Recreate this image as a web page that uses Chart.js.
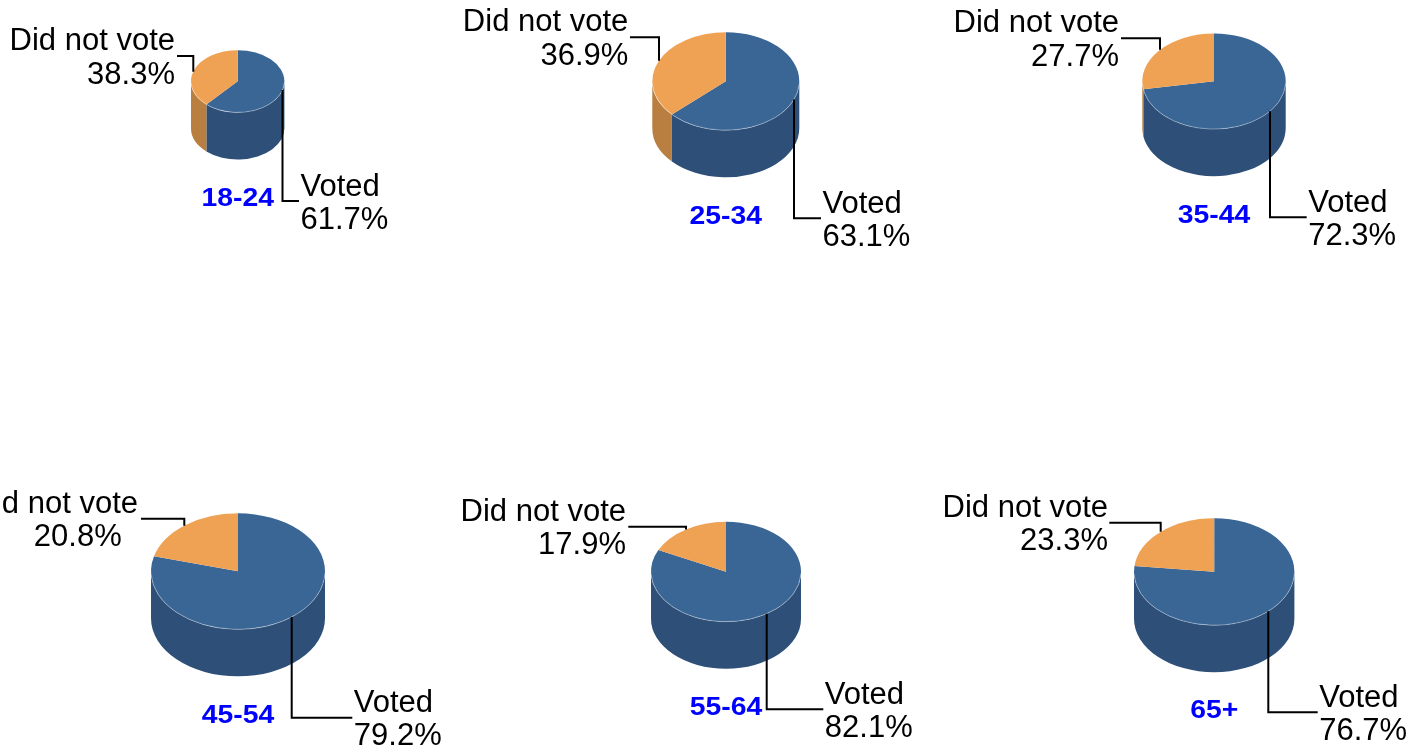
<!DOCTYPE html>
<html><head><meta charset="utf-8">
<script src="https://cdn.jsdelivr.net/npm/chart.js@4.4.1/dist/chart.umd.min.js"></script>
<style>
html,body{margin:0;padding:0;background:#fff;width:1414px;height:750px;overflow:hidden;}
#wrap{position:relative;width:1414px;height:750px;}
canvas{position:absolute;left:0;top:0;}
</style></head><body><div id="wrap"></div>
<script>
// ---- data ----
const ageGroups = ['18-24', '25-34', '35-44', '45-54', '55-64', '65+'];
const sliceLabels = ['Voted', 'Did not vote'];
const votedPct = [61.7, 63.1, 72.3, 79.2, 82.1, 76.7];
const didNotVotePct = [38.3, 36.9, 27.7, 20.8, 17.9, 23.3];

// ---- layout (positions / sizes only) ----
const W = 1414, H = 750;
const K = 0.667;      // vertical squash of the pie top
const DEPTH = 47;     // pie thickness in px
const pieLayout = [
  {cx: 237.7, cy: 81.3, r: 46.7, vx: 282.5, vy: 201, vEnd: 299, nx: 193.3, ny: 56, nStart: 177, nRight1: 175, nRight2: 175, ageY: 205.7},
  {cx: 725.8, cy: 81.2, r: 73.5, vx: 794, vy: 218.3, vEnd: 821, nx: 659, ny: 37.3, nStart: 630, nRight1: 628.3, nRight2: 628.3, ageY: 224},
  {cx: 1214, cy: 81.3, r: 71.7, vx: 1270, vy: 217.3, vEnd: 1306.7, nx: 1160, ny: 38.3, nStart: 1121, nRight1: 1119, nRight2: 1119, ageY: 222.7},
  {cx: 238, cy: 571.3, r: 87, vx: 291.7, vy: 717.7, vEnd: 352.3, nx: 184.3, ny: 518.7, nStart: 141, nRight1: 138, nRight2: 121.7, ageY: 723.3},
  {cx: 726, cy: 571.7, r: 75, vx: 766.7, vy: 709.3, vEnd: 823.3, nx: 686, ny: 526.7, nStart: 628.3, nRight1: 626, nRight2: 626, ageY: 715},
  {cx: 1214.2, cy: 571.7, r: 80.2, vx: 1268.3, vy: 712.3, vEnd: 1317.7, nx: 1160.7, ny: 522.7, nStart: 1109.3, nRight1: 1108, nRight2: 1108, ageY: 718.3}
];
const topColors = ['#3A6696', '#F0A254'];
const sideColors = ['#2E4F77', '#B97F40'];
const FONT = '"Liberation Sans", Arial, sans-serif';

const pie3d = {
  id: 'pie3d',
  beforeDatasetsDraw(chart) {
    const ctx = chart.ctx;
    const arcs = chart.getDatasetMeta(0).data;
    const p = arcs[0].getProps(['x', 'y', 'outerRadius'], true);
    const cx = p.x, cy = p.y, r = p.outerRadius, ry = r * K;
    arcs.forEach((arc, i) => {
      const a0 = arc.getProps(['startAngle', 'endAngle'], true);
      for (let k = -1; k <= 1; k++) {
        const a = Math.max(a0.startAngle, k * 2 * Math.PI);
        const b = Math.min(a0.endAngle, k * 2 * Math.PI + Math.PI);
        if (b > a) {
          ctx.beginPath();
          ctx.ellipse(cx, cy, r, ry, 0, a, b, false);
          ctx.ellipse(cx, cy + DEPTH, r, ry, 0, b, a, true);
          ctx.closePath();
          ctx.fillStyle = sideColors[i];
          ctx.fill();
        }
      }
    });
    ctx.save();
    ctx.translate(cx, cy);
    ctx.scale(1, K);
    ctx.translate(-cx, -cy);
  },
  afterDatasetsDraw(chart) {
    const ctx = chart.ctx;
    ctx.restore();
    const p = chart.getDatasetMeta(0).data[0].getProps(['x', 'y', 'outerRadius'], true);
    ctx.save();
    ctx.beginPath();
    ctx.ellipse(p.x, p.y, p.outerRadius, p.outerRadius * K, 0, 0.05, Math.PI - 0.05);
    ctx.strokeStyle = 'rgba(255,255,255,0.35)';
    ctx.lineWidth = 1;
    ctx.stroke();
    ctx.restore();
  },
  afterDraw(chart) {
    const ctx = chart.ctx;
    const idx = chart.options.plugins.pie3d.index;
    const L = pieLayout[idx];
    const p = chart.getDatasetMeta(0).data[0].getProps(['x', 'y', 'outerRadius'], true);
    const cx = p.x, cy = p.y, r = p.outerRadius, ry = r * K;
    const edgeY = (x, sign) => {
      const c = Math.max(-1, Math.min(1, (x - cx) / r));
      return cy + sign * ry * Math.sqrt(1 - c * c);
    };
    ctx.save();
    ctx.strokeStyle = '#000';
    ctx.lineWidth = 2;
    // Voted leader
    ctx.beginPath();
    ctx.moveTo(L.vx, edgeY(L.vx, 1));
    ctx.lineTo(L.vx, L.vy);
    ctx.lineTo(L.vEnd, L.vy);
    ctx.stroke();
    // Did not vote leader
    ctx.beginPath();
    ctx.moveTo(L.nStart, L.ny);
    ctx.lineTo(L.nx, L.ny);
    ctx.lineTo(L.nx, edgeY(L.nx, -1));
    ctx.stroke();

    const data = chart.data.datasets[0].data;
    ctx.fillStyle = '#000';
    ctx.font = '31px ' + FONT;
    ctx.textBaseline = 'alphabetic';
    ctx.textAlign = 'right';
    ctx.fillText(chart.data.labels[1], L.nRight1, L.ny - 6);
    ctx.fillText(data[1].toFixed(1) + '%', L.nRight2, L.ny + 27.5);
    ctx.textAlign = 'left';
    ctx.fillText(chart.data.labels[0], L.vEnd + 1.5, L.vy - 5.5);
    ctx.fillText(data[0].toFixed(1) + '%', L.vEnd + 1.5, L.vy + 27.5);

    // age group label
    ctx.font = 'bold 26px ' + FONT;
    ctx.fillStyle = '#0000FF';
    ctx.textAlign = 'center';
    ctx.translate(cx, L.ageY);
    ctx.scale(1.09, 1);
    ctx.fillText(ageGroups[idx], 0, 0);
    ctx.restore();
  }
};

const wrap = document.getElementById('wrap');
ageGroups.forEach((g, i) => {
  const L = pieLayout[i];
  const cv = document.createElement('canvas');
  cv.width = W; cv.height = H;
  cv.style.width = W + 'px'; cv.style.height = H + 'px';
  wrap.appendChild(cv);
  new Chart(cv, {
    type: 'pie',
    data: {
      labels: sliceLabels,
      datasets: [{
        data: [votedPct[i], didNotVotePct[i]],
        backgroundColor: topColors,
        borderWidth: 0,
        hoverOffset: 0,
        clip: false
      }]
    },
    options: {
      responsive: false,
      animation: false,
      devicePixelRatio: 1,
      events: [],
      layout: {padding: {left: L.cx - L.r, right: W - L.cx - L.r, top: L.cy - L.r, bottom: H - L.cy - L.r}},
      plugins: {
        legend: {display: false},
        tooltip: {enabled: false},
        title: {display: false},
        pie3d: {index: i}
      }
    },
    plugins: [pie3d]
  });
});
</script>
</body></html>
